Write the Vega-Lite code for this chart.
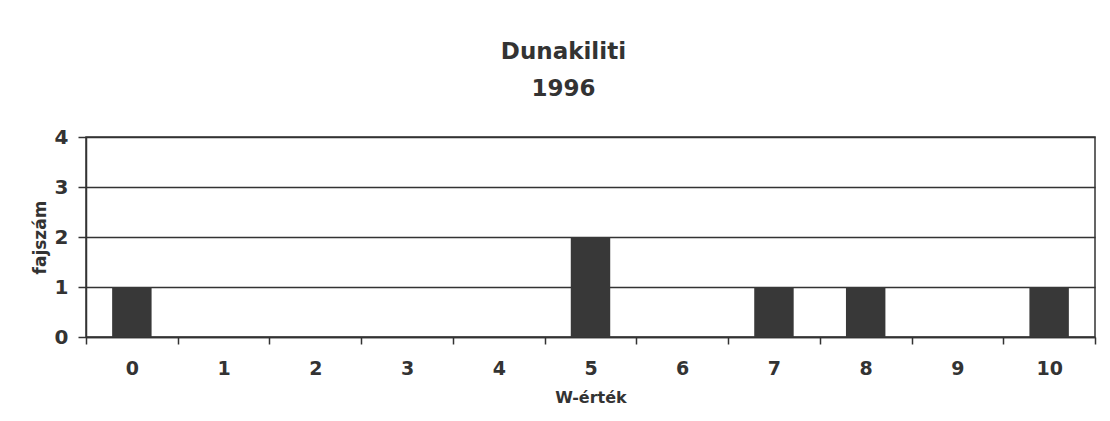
{
  "$schema": "https://vega.github.io/schema/vega-lite/v6.json",
  "width": 1009,
  "height": 200,
  "autosize": {"type": "none"},
  "padding": {"left": 86, "top": 137, "right": 15, "bottom": 84},
  "background": "white",
  "config": {
    "font": "DejaVu Sans",
    "view": {"stroke": "#333", "strokeWidth": 1.5},
    "axis": {"labelFont": "DejaVu Sans", "titleFont": "DejaVu Sans", "labelColor": "#333", "titleColor": "#333", "labelFontWeight": "bold", "titleFontWeight": "bold"}
  },
  "title": {
    "text": ["Dunakiliti", "1996"],
    "font": "DejaVu Sans",
    "fontSize": 23,
    "fontWeight": "bold",
    "color": "#333",
    "lineHeight": 37,
    "anchor": "middle",
    "frame": "bounds",
    "offset": 26
  },
  "data": {
    "values": [
      {"W": 0, "fajszam": 1},
      {"W": 1, "fajszam": 0},
      {"W": 2, "fajszam": 0},
      {"W": 3, "fajszam": 0},
      {"W": 4, "fajszam": 0},
      {"W": 5, "fajszam": 2},
      {"W": 6, "fajszam": 0},
      {"W": 7, "fajszam": 1},
      {"W": 8, "fajszam": 1},
      {"W": 9, "fajszam": 0},
      {"W": 10, "fajszam": 1}
    ]
  },
  "mark": {"type": "bar", "color": "#383838", "width": {"band": 0.43}},
  "encoding": {
    "x": {
      "field": "W",
      "type": "ordinal",
      "scale": {"paddingInner": 0, "paddingOuter": 0},
      "axis": {
        "title": "W-érték",
        "titleFontSize": 16,
        "titlePadding": 11,
        "labelFontSize": 19,
        "labelAngle": 0,
        "labelPadding": 15,
        "tickBand": "extent",
        "tickSize": 7,
        "tickColor": "#333",
        "tickWidth": 1.5,
        "domainColor": "#333",
        "domainWidth": 1.5,
        "grid": false
      }
    },
    "y": {
      "field": "fajszam",
      "type": "quantitative",
      "scale": {"domain": [0, 4], "nice": false},
      "axis": {
        "title": "fajszám",
        "titleFontSize": 17,
        "titlePadding": 5,
        "labelFontSize": 20,
        "labelPadding": 10,
        "values": [0, 1, 2, 3, 4],
        "format": "d",
        "tickSize": 8,
        "tickColor": "#333",
        "tickWidth": 1.5,
        "domainColor": "#333",
        "domainWidth": 1.5,
        "grid": true,
        "gridColor": "#333",
        "gridWidth": 1.5,
        "gridOpacity": 1
      }
    }
  }
}
